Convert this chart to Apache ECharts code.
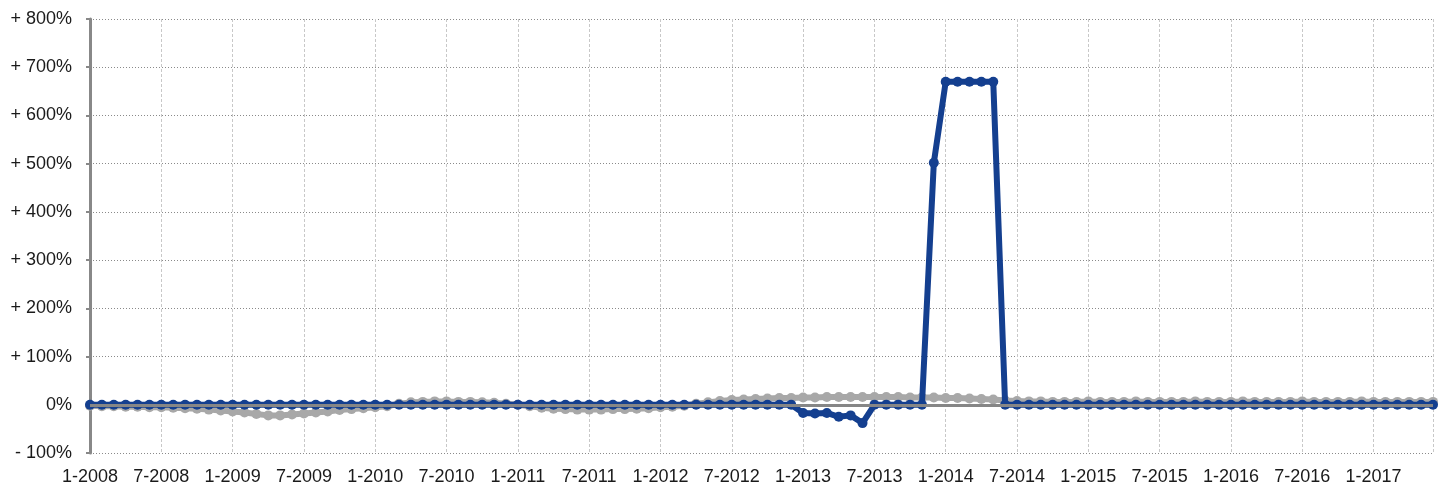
<!DOCTYPE html>
<html>
<head>
<meta charset="utf-8">
<script src="https://cdn.jsdelivr.net/npm/echarts@6/dist/echarts.min.js"></script>
<style>
  html, body { margin: 0; padding: 0; background: #fff; }
  #chart { width: 1440px; height: 485px; }
</style>
</head>
<body>
<div id="chart"></div>
<script>
// months 1-2008 .. 6-2017
var startYear = 2008, monthCount = 114;
var months = [];
for (var k = 0; k < monthCount; k++) {
  months.push(((k % 12) + 1) + '-' + (startYear + Math.floor(k / 12)));
}

// y ticks (percent)
var yMin = -100, yMax = 800, yStep = 100;

// grey series
var greyVals = [
  -2,-3,-3,-4,-4,-5,-5,-6,-7,-8,-10,-12,-14,-16,-19,-22,-22,-20,-18,-16,-14,-11,-9,-7,-5,-3,2,5,6,
  7,7,6,6,5,4,2,0,-3,-6,-8,-9,-10,-10,-10,-9,-9,-8,-7,-5,-4,-2,2,5,8,10,11,12,
  13,14,14,15,15,16,16,16,16,16,16,16,15,15,15,14,14,13,12,11,9,
  8,7,7,6,6,6,7,6,6,6,7,6,6,6,6,7,6,6,6,7,6,6,6,6,7,6,6,6,6,7,6,6,6,6,6,6
];

// blue series
var blueVals = [
  0,0,0,0,0,0,0,0,0,0,0,0,0,0,0,0,0,0,0,0,0,0,0,0,0,0,0,0,0,0,
  0,0,0,0,0,0,0,0,0,0,0,0,0,0,0,0,0,0,0,0,0,0,0,0,0,0,0,0,0,0,
  -17,-18,-17,-25,-22,-38,
  0,0,0,0,0,
  502,
  670,670,670,670,670,
  0,0,0,0,0,0,0,0,0,0,0,0,0,0,0,0,0,0,0,0,0,0,0,0,0,0,0,0,0,0,0,0,0,0,0,0,0
];

var fontFam = "'Liberation Sans', Arial, Helvetica, sans-serif";
var chart = echarts.init(document.getElementById('chart'));

var option = {
  animation: false,
  grid: {
    left: 90,
    right: 7,
    top: 19,
    bottom: 32,
    outerBoundsMode: 'none'
  },
  xAxis: {
    type: 'category',
    boundaryGap: false,
    data: months,
    axisLine: { show: false, onZero: false },
    axisTick: { show: false },
    axisLabel: {
      interval: 5,
      margin: 15,
      color: '#1a1a1a',
      fontSize: 18,
      fontFamily: fontFam
    },
    splitLine: {
      show: true,
      interval: function (idx) { return idx % 6 === 0 || idx === monthCount - 1; },
      lineStyle: { color: '#c8c8c8', type: [3, 2], width: 1 }
    }
  },
  yAxis: {
    type: 'value',
    min: yMin,
    max: yMax,
    interval: yStep,
    axisLine: { show: true, lineStyle: { color: '#888', width: 3 } },
    axisTick: { show: true, length: 4, lineStyle: { color: '#888', width: 2 } },
    axisLabel: {
      margin: 18,
      color: '#1a1a1a',
      fontSize: 18,
      fontFamily: fontFam,
      formatter: function (v) {
        if (v > 0) return '+ ' + v + '%';
        if (v < 0) return '- ' + Math.abs(v) + '%';
        return '0%';
      }
    },
    splitLine: {
      show: true,
      lineStyle: { color: '#8a8a8a', type: [1, 2], width: 1 }
    }
  },
  series: [
    {
      name: 'grey',
      type: 'line',
      data: greyVals,
      symbol: 'circle',
      symbolSize: 10,
      showAllSymbol: true,
      lineStyle: { color: '#a8a8a8', width: 6 },
      itemStyle: { color: '#a8a8a8' },
      z: 2,
      markLine: {
        silent: true,
        symbol: ['none', 'none'],
        label: { show: false },
        lineStyle: { color: '#868686', width: 3, type: 'solid' },
        data: [{ yAxis: 0 }]
      }
    },
    {
      name: 'blue',
      type: 'line',
      data: blueVals,
      symbol: 'circle',
      symbolSize: 10,
      showAllSymbol: true,
      lineStyle: { color: '#143f8f', width: 6 },
      itemStyle: { color: '#143f8f' },
      z: 3
    }
  ]
};
chart.setOption(option);
</script>
</body>
</html>
